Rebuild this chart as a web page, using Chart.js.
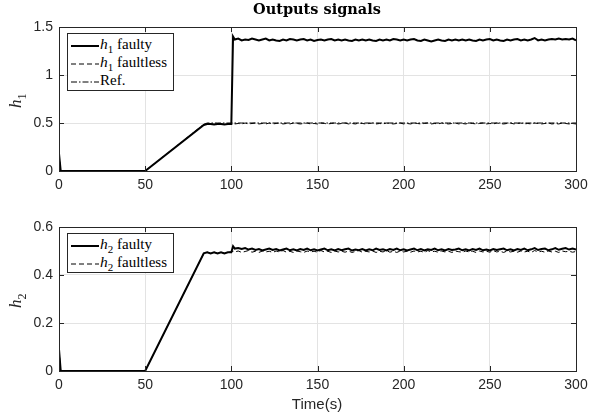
<!DOCTYPE html>
<html lang="en">
<head>
<meta charset="UTF-8">
<title>Outputs signals</title>
<script src="https://cdn.jsdelivr.net/npm/chart.js"></script>
<style>
    body { margin: 0; background: #fff; }
    .page { position: relative; width: 600px; height: 416px; overflow: hidden; }
    canvas { position: absolute; left: 0; }
    .title { position: absolute; top: 0px; left: 217px; width: 200px; text-align: center;
             font: bold 14.5px "DejaVu Serif", serif; color: #000; }
    .xlabel { position: absolute; top: 395px; left: 267px; width: 100px; text-align: center;
              font: 15px "Liberation Sans", Arial, sans-serif; color: #262626; }
    .ylabel { position: absolute; width: 40px; text-align: center; transform: rotate(-90deg);
              font: italic 17px "Liberation Serif", serif; color: #262626; }
    .ylabel sub { font-style: normal; font-size: 12px; }
    .legend { position: absolute; left: 67px; width: 105px; background: #fff;
              border: 1px solid #262626; font: 15px "Liberation Serif", serif; color: #000; padding: 1px 0; }
    .legend div { height: 18px; line-height: 18px; white-space: nowrap; }
    .legend svg { vertical-align: middle; margin: 0 1px 0 3px; }
    .legend i { font-size: 15.5px; }
    .legend sub { font-size: 11px; }
</style>
</head>
<body>
<div class="page">
    <canvas id="topChart" width="600" height="200" style="top:0"></canvas>
    <canvas id="bottomChart" width="600" height="216" style="top:200px"></canvas>

    <div class="title">Outputs signals</div>
    <div class="xlabel">Time(s)</div>
    <div class="ylabel" style="left:-2px; top:89px"><i>h</i><sub>1</sub></div>
    <div class="ylabel" style="left:-2px; top:289px"><i>h</i><sub>2</sub></div>

    <div class="legend" style="top:33px">
        <div><svg width="28" height="6"><line x1="0" y1="3" x2="28" y2="3" stroke="#000" stroke-width="2"/></svg><i>h</i><sub>1</sub> faulty</div>
        <div><svg width="28" height="6"><line x1="0" y1="3" x2="28" y2="3" stroke="#000" stroke-width="1" stroke-dasharray="5,3"/></svg><i>h</i><sub>1</sub> faultless</div>
        <div><svg width="28" height="6"><line x1="0" y1="3" x2="28" y2="3" stroke="#000" stroke-width="1" stroke-dasharray="6,2,1.5,2"/></svg>Ref.</div>
    </div>
    <div class="legend" style="top:233px">
        <div><svg width="28" height="6"><line x1="0" y1="3" x2="28" y2="3" stroke="#000" stroke-width="2"/></svg><i>h</i><sub>2</sub> faulty</div>
        <div><svg width="28" height="6"><line x1="0" y1="3" x2="28" y2="3" stroke="#000" stroke-width="1" stroke-dasharray="5,3"/></svg><i>h</i><sub>2</sub> faultless</div>
    </div>
</div>

<script>
    // time samples (s)
    const time = [0, 1, 50, 84, 86, 88, 90, 92, 94, 96, 98, 100, 101,
        102, 104, 106, 108, 110, 112, 114, 116, 118, 120,
        122, 124, 126, 128, 130, 132, 134, 136, 138, 140,
        142, 144, 146, 148, 150, 152, 154, 156, 158, 160,
        162, 164, 166, 168, 170, 172, 174, 176, 178, 180,
        182, 184, 186, 188, 190, 192, 194, 196, 198, 200,
        202, 204, 206, 208, 210, 212, 214, 216, 218, 220,
        222, 224, 226, 228, 230, 232, 234, 236, 238, 240,
        242, 244, 246, 248, 250, 252, 254, 256, 258, 260,
        262, 264, 266, 268, 270, 272, 274, 276, 278, 280,
        282, 284, 286, 288, 290, 292, 294, 296, 298, 300];

    const h1Faulty = [0.18, 0, 0, 0.48, 0.49, 0.49, 0.485, 0.49, 0.49, 0.485, 0.49, 0.49, 1.40,
        1.37, 1.38, 1.36, 1.37, 1.365, 1.38, 1.37, 1.36, 1.37, 1.38,
        1.36, 1.37, 1.36, 1.355, 1.37, 1.36, 1.375, 1.37, 1.36, 1.37,
        1.375, 1.36, 1.37, 1.355, 1.365, 1.37, 1.36, 1.37, 1.375, 1.36,
        1.37, 1.36, 1.37, 1.36, 1.355, 1.37, 1.36, 1.37, 1.36, 1.37,
        1.36, 1.355, 1.37, 1.36, 1.37, 1.36, 1.375, 1.37, 1.36, 1.37,
        1.36, 1.37, 1.375, 1.36, 1.355, 1.37, 1.36, 1.35, 1.36, 1.37,
        1.36, 1.355, 1.37, 1.36, 1.37, 1.36, 1.37, 1.36, 1.37, 1.36,
        1.355, 1.37, 1.36, 1.37, 1.375, 1.36, 1.37, 1.36, 1.355, 1.37,
        1.36, 1.37, 1.375, 1.36, 1.37, 1.36, 1.37, 1.385, 1.36, 1.37,
        1.36, 1.37, 1.375, 1.37, 1.38, 1.37, 1.375, 1.37, 1.38, 1.36];

    const h1Faultless = [0.18, 0, 0, 0.48, 0.49, 0.49, 0.485, 0.49, 0.49, 0.485, 0.49, 0.49, 0.50,
        0.49, 0.495, 0.49, 0.50, 0.49, 0.495, 0.50, 0.49, 0.495, 0.49,
        0.50, 0.49, 0.495, 0.50, 0.49, 0.495, 0.49, 0.50, 0.495, 0.49,
        0.495, 0.50, 0.49, 0.495, 0.49, 0.50, 0.495, 0.49, 0.495, 0.50,
        0.49, 0.495, 0.50, 0.49, 0.495, 0.49, 0.50, 0.495, 0.49, 0.495,
        0.50, 0.49, 0.495, 0.49, 0.50, 0.495, 0.49, 0.495, 0.50, 0.49,
        0.495, 0.49, 0.50, 0.495, 0.49, 0.495, 0.50, 0.49, 0.495, 0.49,
        0.50, 0.495, 0.49, 0.495, 0.50, 0.49, 0.495, 0.49, 0.50, 0.495,
        0.49, 0.495, 0.50, 0.49, 0.495, 0.49, 0.50, 0.495, 0.49, 0.495,
        0.50, 0.49, 0.495, 0.50, 0.49, 0.495, 0.49, 0.50, 0.495, 0.49,
        0.495, 0.50, 0.49, 0.495, 0.49, 0.50, 0.495, 0.49, 0.495, 0.49];

    const h1Ref = [0, 0, 0, 0.486, 0.5, 0.5, 0.5, 0.5, 0.5, 0.5, 0.5, 0.5, 0.5,
        0.5, 0.5, 0.5, 0.5, 0.5, 0.5, 0.5, 0.5, 0.5, 0.5,
        0.5, 0.5, 0.5, 0.5, 0.5, 0.5, 0.5, 0.5, 0.5, 0.5,
        0.5, 0.5, 0.5, 0.5, 0.5, 0.5, 0.5, 0.5, 0.5, 0.5,
        0.5, 0.5, 0.5, 0.5, 0.5, 0.5, 0.5, 0.5, 0.5, 0.5,
        0.5, 0.5, 0.5, 0.5, 0.5, 0.5, 0.5, 0.5, 0.5, 0.5,
        0.5, 0.5, 0.5, 0.5, 0.5, 0.5, 0.5, 0.5, 0.5, 0.5,
        0.5, 0.5, 0.5, 0.5, 0.5, 0.5, 0.5, 0.5, 0.5, 0.5,
        0.5, 0.5, 0.5, 0.5, 0.5, 0.5, 0.5, 0.5, 0.5, 0.5,
        0.5, 0.5, 0.5, 0.5, 0.5, 0.5, 0.5, 0.5, 0.5, 0.5,
        0.5, 0.5, 0.5, 0.5, 0.5, 0.5, 0.5, 0.5, 0.5, 0.5];

    const h2Faulty = [0.09, 0, 0, 0.49, 0.495, 0.49, 0.495, 0.49, 0.495, 0.49, 0.495, 0.495, 0.52,
        0.51, 0.512, 0.508, 0.512, 0.506, 0.51, 0.504, 0.508, 0.502, 0.506,
        0.51, 0.504, 0.508, 0.502, 0.506, 0.51, 0.503, 0.507, 0.502, 0.508,
        0.504, 0.51, 0.503, 0.507, 0.502, 0.506, 0.51, 0.503, 0.507, 0.502,
        0.508, 0.503, 0.507, 0.51, 0.502, 0.506, 0.503, 0.508, 0.502, 0.507,
        0.503, 0.51, 0.504, 0.507, 0.502, 0.508, 0.504, 0.51, 0.503, 0.507,
        0.502, 0.506, 0.51, 0.503, 0.508, 0.502, 0.507, 0.504, 0.51, 0.503,
        0.507, 0.502, 0.508, 0.504, 0.506, 0.51, 0.503, 0.507, 0.502, 0.508,
        0.504, 0.51, 0.503, 0.506, 0.502, 0.508, 0.504, 0.507, 0.51, 0.503,
        0.507, 0.502, 0.508, 0.504, 0.51, 0.503, 0.507, 0.512, 0.504, 0.508,
        0.51, 0.503, 0.507, 0.512, 0.505, 0.509, 0.512, 0.506, 0.51, 0.506];

    const h2Faultless = [0.09, 0, 0, 0.49, 0.495, 0.49, 0.495, 0.49, 0.495, 0.49, 0.495, 0.495, 0.50,
        0.496, 0.50, 0.494, 0.498, 0.502, 0.495, 0.499, 0.494, 0.50, 0.496,
        0.499, 0.494, 0.50, 0.496, 0.502, 0.495, 0.499, 0.494, 0.50, 0.497,
        0.494, 0.50, 0.496, 0.499, 0.495, 0.502, 0.496, 0.499, 0.494, 0.50,
        0.496, 0.499, 0.495, 0.50, 0.494, 0.498, 0.502, 0.495, 0.499, 0.496,
        0.50, 0.494, 0.499, 0.496, 0.502, 0.495, 0.499, 0.494, 0.50, 0.496,
        0.499, 0.495, 0.50, 0.496, 0.499, 0.494, 0.502, 0.496, 0.499, 0.495,
        0.50, 0.496, 0.499, 0.494, 0.50, 0.497, 0.495, 0.50, 0.496, 0.499,
        0.494, 0.50, 0.496, 0.499, 0.495, 0.502, 0.496, 0.499, 0.494, 0.50,
        0.496, 0.499, 0.495, 0.50, 0.496, 0.499, 0.494, 0.502, 0.496, 0.499,
        0.495, 0.50, 0.496, 0.499, 0.494, 0.50, 0.497, 0.499, 0.495, 0.498];

    const xTicks = [0, 50, 100, 150, 200, 250, 300];
    const yTicksTop = [0, 0.5, 1, 1.5];
    const yTicksBottom = [0, 0.2, 0.4, 0.6];

    const toPoints = (ys) => ys.map((y, i) => ({ x: time[i], y: y }));

    // MATLAB style box with ticks pointing inwards
    const boxPlugin = {
        id: 'box',
        afterDraw(chart) {
            const ctx = chart.ctx;
            const a = chart.chartArea;
            const len = 5;
            ctx.save();
            ctx.strokeStyle = '#262626';
            ctx.lineWidth = 1;
            ctx.beginPath();
            chart.scales.x.ticks.forEach(t => {
                const px = Math.round(chart.scales.x.getPixelForValue(t.value)) + 0.5;
                ctx.moveTo(px, a.bottom); ctx.lineTo(px, a.bottom - len);
                ctx.moveTo(px, a.top); ctx.lineTo(px, a.top + len);
            });
            chart.scales.y.ticks.forEach(t => {
                const py = Math.round(chart.scales.y.getPixelForValue(t.value)) + 0.5;
                ctx.moveTo(a.left, py); ctx.lineTo(a.left + len, py);
                ctx.moveTo(a.right, py); ctx.lineTo(a.right - len, py);
            });
            ctx.stroke();
            ctx.strokeRect(Math.round(a.left) + 0.5, Math.round(a.top) + 0.5,
                Math.round(a.right - a.left), Math.round(a.bottom - a.top));
            ctx.restore();
        }
    };

    function makeChart(id, datasets, yMax, yTicks, xHeight) {
        return new Chart(document.getElementById(id), {
            type: 'line',
            data: { datasets: datasets },
            options: {
                responsive: false,
                animation: false,
                layout: { padding: { left: 0, right: 24, top: 27, bottom: 0 } },
                plugins: { legend: { display: false }, tooltip: { enabled: false } },
                elements: { point: { radius: 0 }, line: { tension: 0 } },
                scales: {
                    x: {
                        type: 'linear', min: 0, max: 300,
                        afterBuildTicks: s => { s.ticks = xTicks.map(v => ({ value: v })); },
                        afterFit: s => { s.height = xHeight; },
                        grid: { color: '#e3e3e3', drawTicks: false },
                        border: { display: false },
                        ticks: { padding: 6, color: '#262626', maxRotation: 0,
                                 font: { family: 'Liberation Sans', size: 14 } }
                    },
                    y: {
                        type: 'linear', min: 0, max: yMax,
                        afterBuildTicks: s => { s.ticks = yTicks.map(v => ({ value: v })); },
                        afterFit: s => { s.width = 59; },
                        grid: { color: '#e3e3e3', drawTicks: false },
                        border: { display: false },
                        ticks: { padding: 6, color: '#262626',
                                 font: { family: 'Liberation Sans', size: 14 },
                                 callback: v => String(v) }
                    }
                }
            },
            plugins: [boxPlugin]
        });
    }

    makeChart('topChart', [
        { label: 'h1 faulty', data: toPoints(h1Faulty), borderColor: '#000', borderWidth: 2, order: 0 },
        { label: 'h1 faultless', data: toPoints(h1Faultless), borderColor: '#000', borderWidth: 1, borderDash: [5, 3], order: 1 },
        { label: 'Ref.', data: toPoints(h1Ref), borderColor: '#000', borderWidth: 1, borderDash: [6, 2, 1.5, 2], order: 2 }
    ], 1.5, yTicksTop, 29);

    makeChart('bottomChart', [
        { label: 'h2 faulty', data: toPoints(h2Faulty), borderColor: '#000', borderWidth: 2, order: 0 },
        { label: 'h2 faultless', data: toPoints(h2Faultless), borderColor: '#000', borderWidth: 1, borderDash: [5, 3], order: 1 }
    ], 0.6, yTicksBottom, 45);
</script>
</body>
</html>
